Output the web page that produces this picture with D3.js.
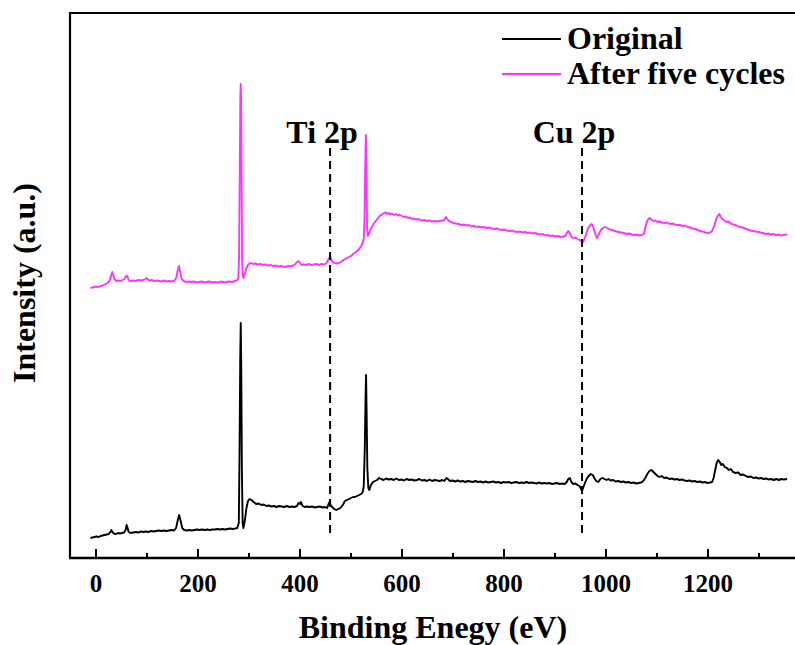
<!DOCTYPE html>
<html>
<head>
<meta charset="utf-8">
<script src="https://cdn.jsdelivr.net/npm/d3@7"></script>
<style>
  html, body { margin: 0; padding: 0; background: #fff; }
  svg { display: block; font-family: "Liberation Serif", "Times New Roman", serif; }
</style>
</head>
<body>
<svg id="chart" width="795" height="645"></svg>
<script>
// XPS survey spectra: [binding energy (eV), intensity (a.u.)]
const originalSpectrum = [
  [-10,20],[-6,20.5],[-2,21],[2,21.5],[6,21],[10,22],[14,22.5],[18,23],[22,23.5],[26,24],[29,26],[31,28],[33,26],[36,24.5],[40,24],[44,25],[48,24.5],[52,25],[56,25.5],[59,28],[61,33],[63,30],[65,26],[69,25],[74,25.5],[79,26],[84,25.5],[89,26.5],[94,26],[99,26.5],[104,26],[109,27],[114,26.5],[119,27],[124,27.5],[129,27],[134,27.5],[139,27],[144,27.5],[149,28],[154,27.5],[158,30],[161,37],[164,43],[167,37],[170,30],[174,28],[179,27.5],[184,28],[189,27.5],[194,28],[199,28.5],[204,28],[209,28.5],[214,28],[219,28.5],[224,28],[229,28.5],[234,28.5],[239,29],[244,28.5],[249,29],[254,28.5],[259,29],[264,29.5],[269,29],[274,29.5],[278,30],[281,35],[282.5,110],[283.8,200],[284.8,235],[285.8,190],[287,90],[288.5,35],[290,30],[293,38],[296,50],[299,57],[302,59],[306,58],[310,56],[315,54],[320,54.5],[325,53],[330,53.5],[335,52],[340,52.5],[345,51.5],[350,52],[355,51],[360,52],[365,51.5],[370,51],[375,52],[380,51],[385,51.5],[390,51],[395,52],[398,55],[401,54],[403,56],[406,52],[410,51],[415,51.5],[420,51],[425,51.5],[430,50.5],[435,51],[440,51.5],[445,50.5],[450,51],[454,50],[457,54],[459,56],[461,53],[464,51],[468,49],[472,48],[476,49],[480,50],[485,53],[489,57],[493,58],[497,59],[501,60],[505,61],[509,61],[513,62],[517,63],[521,64],[524,66],[526,72],[528,110],[529.5,160],[530.5,183],[531.5,150],[533,90],[535,70],[537,68],[540,73],[544,76],[548,77],[552,78],[556,80],[560,79],[565,78],[570,79.5],[575,78.5],[580,79],[585,78],[590,79.5],[595,78],[600,78.5],[605,77.5],[610,79],[615,78],[620,78.5],[625,77.5],[630,78],[635,79],[640,77.5],[645,78],[650,77],[655,78.5],[660,77],[665,78],[670,77.5],[675,77],[680,78],[684,77],[688,80],[691,79],[695,77],[700,77.5],[705,76.5],[710,77.5],[715,76.5],[720,77],[725,76],[730,77],[735,76.5],[740,76],[745,77],[750,76],[755,76.5],[760,75.5],[765,76.5],[770,75.5],[775,76],[780,76.5],[785,75.5],[790,76],[795,75],[800,76],[805,75.5],[810,76],[815,75],[820,75.5],[825,76],[830,75],[835,75.5],[840,75],[845,76],[850,75],[855,75.5],[860,75],[865,74.5],[870,75.5],[875,74.5],[880,75],[885,74.5],[890,75],[895,74],[900,74.5],[905,75],[910,74],[915,74.5],[920,74],[924,76],[927,79],[930,80],[933,76],[937,74],[941,74.5],[945,73],[949,72],[952,69],[954,67],[956,70],[959,74],[963,79],[967,82],[971,84],[975,83],[978,80],[982,77],[986,76],[990,79],[994,80],[998,79],[1002,78],[1006,79],[1010,77.5],[1015,78],[1020,76.5],[1025,77],[1030,76],[1035,76.5],[1040,75.5],[1045,76],[1050,75],[1055,75.5],[1060,74.5],[1065,75],[1070,75.5],[1074,77],[1078,80],[1082,84],[1086,87],[1090,88],[1094,86],[1098,84],[1102,82],[1106,81],[1110,82],[1115,80],[1120,80.5],[1125,79],[1130,79.5],[1135,78.5],[1140,79],[1145,78],[1150,78.5],[1155,77.5],[1160,77],[1165,77.5],[1170,76.5],[1175,77],[1180,76],[1185,76.5],[1190,75.5],[1195,76],[1200,75],[1205,75.5],[1209,76],[1212,80],[1215,88],[1218,95],[1221,98],[1224,96],[1227,93],[1230,94],[1234,91],[1238,90],[1242,88],[1246,89],[1250,86],[1255,85],[1260,85.5],[1265,83],[1270,83.5],[1275,82],[1280,81],[1285,81.5],[1290,80],[1295,80.5],[1300,79.5],[1305,80],[1310,79],[1315,79.5],[1320,78.5],[1325,79],[1330,78],[1335,79],[1340,78],[1345,79],[1350,78.5],[1356,79]
];

const cycledSpectrum = [
  [-10,270],[-6,270.5],[-2,271],[2,271.5],[6,271],[10,272],[14,272.5],[18,273.5],[22,274.5],[26,276],[29,279],[31,283],[33,286],[35,283],[37,279],[41,277],[45,277.5],[49,277],[53,278],[57,279],[59,281],[61,282.5],[63,281],[65,278],[69,277],[74,277.5],[79,277],[84,278],[89,277.5],[94,278],[98,279],[100,280],[102,279],[105,277.5],[110,278],[115,277],[120,277.5],[125,277],[130,276.5],[135,277.5],[140,276.5],[145,277],[150,276.5],[155,277.5],[158,280],[161,287],[163.5,292],[166,286],[169,279],[173,277],[178,276],[183,276.5],[188,276],[193,276.5],[198,275.5],[203,276],[208,276.5],[213,275.5],[218,276],[223,276.5],[228,275.5],[233,276],[238,275.5],[243,276],[248,276.5],[253,275.5],[258,276],[263,276.5],[268,276],[273,277],[277,277.5],[280,280],[281.5,300],[282.8,380],[284,460],[284.8,474],[285.6,455],[286.5,380],[287.5,300],[288.5,282],[290,280],[293,285],[296,290],[299,293],[302,294.5],[305,295],[309,294],[313,294.5],[318,293.5],[323,294],[328,293],[333,293.5],[338,292.5],[343,293],[348,292],[353,292.5],[358,291.5],[363,292],[368,291.5],[373,291],[378,292],[383,291.5],[388,292.5],[392,294],[395,296],[398,297],[401,295],[404,293],[408,293.5],[413,293],[418,294],[423,293],[428,293.5],[433,294],[438,293],[443,294],[448,293.5],[452,294.5],[455,297],[458,300],[460,301],[462,299],[465,296],[469,295],[473,294.5],[477,295],[481,296],[485,297.5],[489,299],[493,300],[497,301],[501,302],[505,304],[509,305.5],[513,307],[517,309],[521,312],[524,315],[526,319],[527.5,340],[529,395],[530.2,423],[531.3,390],[532.5,330],[534,322],[536,324],[539,328],[542,331],[545,334],[548,336],[551,338],[554,340],[557,342],[560,343],[563,344],[566,345],[569,345.5],[572,344],[575,345],[578,343.5],[581,344.5],[585,343],[589,344],[593,342.5],[597,343],[601,342],[605,341],[609,341.5],[613,340],[617,340.5],[621,339],[625,339.5],[629,338.5],[633,339],[637,338],[641,337.5],[645,338],[650,337],[655,337.5],[660,336.5],[665,337],[670,336.5],[675,337],[680,337.5],[684,338],[687,341],[690,339],[693,337],[697,336],[702,335],[707,334.5],[712,334],[717,333],[722,333.5],[727,332.5],[732,333],[737,331.5],[742,332],[747,331],[752,331.5],[757,330.5],[762,331],[767,330],[772,330.5],[777,329.5],[782,329],[787,329.5],[792,328.5],[797,328],[802,328.5],[807,327.5],[812,327],[817,327.5],[822,326.5],[827,326],[832,326.5],[837,325.5],[842,326],[847,325],[852,325.5],[857,324.5],[862,325],[867,324],[872,323.5],[877,324],[882,322.5],[887,323],[892,322],[897,322.5],[902,321.5],[907,322],[912,321],[917,321.5],[921,322],[924,325],[927,327],[930,325],[933,321],[937,320],[941,320.5],[945,319],[949,318],[952,317],[955,315.5],[958,318],[962,324],[966,330],[970,333],[973,334],[976,331],[980,324],[983,320],[987,324],[991,328],[995,330],[999,331],[1003,330],[1007,329],[1011,328],[1016,327.5],[1021,326.5],[1026,326],[1031,325.5],[1036,325],[1041,324],[1046,324.5],[1051,323.5],[1056,323],[1061,323.5],[1066,322.5],[1071,323],[1075,324],[1078,330],[1081,336],[1084,339],[1087,340],[1090,338.5],[1094,337],[1098,337.5],[1102,336],[1106,336.5],[1111,335.5],[1116,335],[1121,335.5],[1126,334],[1131,334.5],[1136,333.5],[1141,333],[1146,333],[1151,332],[1156,332.5],[1161,331],[1166,330.5],[1171,329.5],[1176,329],[1181,328],[1186,327],[1191,326.5],[1196,325.5],[1201,325],[1205,325.5],[1209,327],[1213,332],[1217,339],[1220,342],[1223,344],[1226,341],[1229,339],[1233,337.5],[1237,336],[1241,336.5],[1245,334.5],[1249,334],[1253,333],[1257,332.5],[1261,331.5],[1265,331],[1269,330.5],[1274,329.5],[1279,328.5],[1284,327.5],[1289,327],[1294,326.5],[1299,326],[1304,325.5],[1309,325],[1314,324],[1319,324.5],[1324,323.5],[1329,324],[1334,323],[1339,323.5],[1344,322.5],[1348,323],[1356,323.5]
];

const seriesNames = ["Original", "After five cycles"];
const seriesColors = ["#000000", "#ff33ff"];

// Reference binding energies marked with dashed lines
const markerLabels = ["Ti 2p", "Cu 2p"];
const markerEnergies = [460, 954];

const majorTicks = [0, 200, 400, 600, 800, 1000, 1200];
const minorTicks = [100, 300, 500, 700, 900, 1100, 1300];

const svg = d3.select("#chart");
const plot = { left: 70, top: 13, bottom: 558, right: 809.5 };

const x = d3.scaleLinear().domain([-50, 1400]).range([plot.left, plot.right]);
const y = d3.scaleLinear().domain([0, 545]).range([plot.bottom, plot.top]);

// Spectra
const line = d3.line().x(d => x(d[0])).y(d => y(d[1]));
[originalSpectrum, cycledSpectrum].forEach((data, i) => {
  svg.append("path")
    .datum(data)
    .attr("fill", "none")
    .attr("stroke", seriesColors[i])
    .attr("stroke-width", 1.9)
    .attr("stroke-linejoin", "round")
    .attr("d", line);
});

// Dashed reference lines and labels
markerEnergies.forEach((e, i) => {
  svg.append("line")
    .attr("x1", x(e)).attr("x2", x(e))
    .attr("y1", 148).attr("y2", 536)
    .attr("stroke", "#000")
    .attr("stroke-width", 2)
    .attr("stroke-dasharray", "8,5");
  svg.append("text")
    .attr("x", x(e) - 8)
    .attr("y", 143)
    .attr("text-anchor", "middle")
    .attr("font-size", 32)
    .attr("font-weight", "bold")
    .text(markerLabels[i]);
});

// Frame: left and top edges
svg.append("line")
  .attr("x1", plot.left).attr("x2", plot.left)
  .attr("y1", plot.top - 1).attr("y2", plot.bottom)
  .attr("stroke", "#000").attr("stroke-width", 2.2);
svg.append("line")
  .attr("x1", plot.left - 1).attr("x2", plot.right)
  .attr("y1", plot.top).attr("y2", plot.top)
  .attr("stroke", "#000").attr("stroke-width", 2.2);

// Bottom axis with inward ticks
const xAxis = d3.axisBottom(x)
  .tickValues(majorTicks)
  .tickSize(-9)
  .tickSizeOuter(0)
  .tickPadding(16)
  .tickFormat(d3.format("d"));
const gx = svg.append("g")
  .attr("transform", `translate(0,${plot.bottom})`)
  .call(xAxis);
gx.select(".domain").attr("stroke-width", 2.5).attr("d", `M${plot.left - 1},0H${plot.right}`);
gx.selectAll(".tick line").attr("stroke-width", 2);
gx.selectAll(".tick text")
  .attr("font-family", "Liberation Serif, serif")
  .attr("font-size", 25)
  .attr("font-weight", "bold")
  .attr("fill", "#000");

const minorAxis = d3.axisBottom(x)
  .tickValues(minorTicks)
  .tickSize(-5)
  .tickSizeOuter(0)
  .tickFormat("");
const gm = svg.append("g")
  .attr("transform", `translate(0,${plot.bottom})`)
  .call(minorAxis);
gm.select(".domain").remove();
gm.selectAll(".tick line").attr("stroke-width", 2);

// Axis titles
svg.append("text")
  .attr("x", 433)
  .attr("y", 638)
  .attr("text-anchor", "middle")
  .attr("font-size", 32)
  .attr("font-weight", "bold")
  .text("Binding Enegy (eV)");

svg.append("text")
  .attr("transform", "translate(35,283) rotate(-90)")
  .attr("text-anchor", "middle")
  .attr("font-size", 32)
  .attr("font-weight", "bold")
  .text("Intensity (a.u.)");

// Legend
const legend = svg.append("g");
seriesNames.forEach((name, i) => {
  const ly = 39 + i * 35;
  legend.append("line")
    .attr("x1", 502).attr("x2", 561)
    .attr("y1", ly).attr("y2", ly)
    .attr("stroke", seriesColors[i])
    .attr("stroke-width", 2);
  legend.append("text")
    .attr("x", 567)
    .attr("y", ly + 10)
    .attr("font-size", 32)
    .attr("font-weight", "bold")
    .text(name);
});
</script>
</body>
</html>
